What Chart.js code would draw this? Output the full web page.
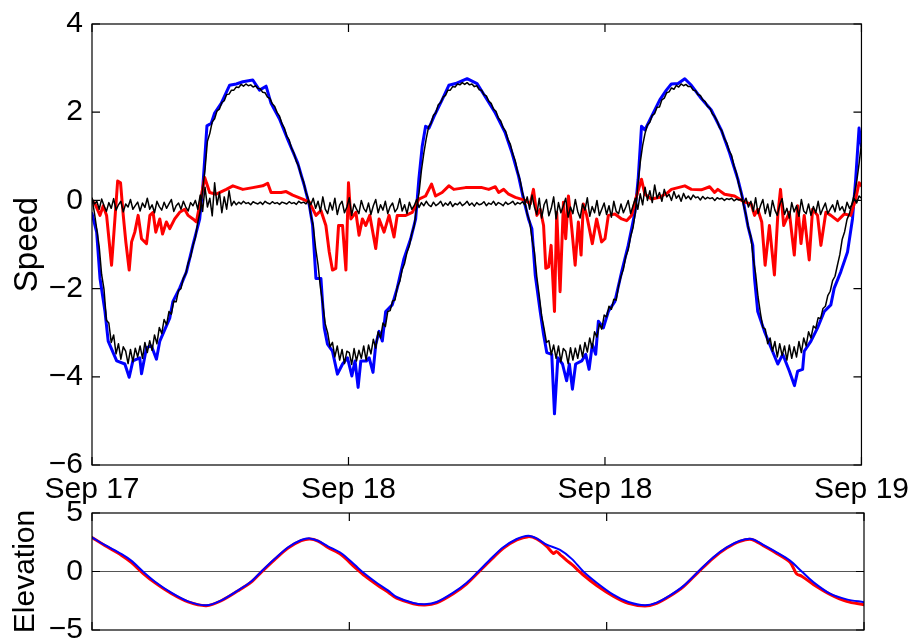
<!DOCTYPE html>
<html>
<head>
<meta charset="utf-8">
<script src="https://cdn.jsdelivr.net/npm/chart.js@4.4.1/dist/chart.umd.min.js"></script>
<style>
  html, body { margin: 0; padding: 0; background: #fff; overflow: hidden; }
  #wrap { position: relative; width: 919px; height: 644px; }
  #speed { position: absolute; left: 0; top: 0; }
  #elev { position: absolute; left: 0; top: 475px; }
</style>
</head>
<body>
<div id="wrap">
  <canvas id="speed" width="919" height="515"></canvas>
  <canvas id="elev" width="919" height="185"></canvas>
</div>
<script>
// time axis in hours from the start of Sep 17
const tickHours = [0, 16, 32, 48];
const tickLabels = ['Sep 17', 'Sep 18', 'Sep 18', 'Sep 19'];

// top panel: along-channel speed (blue)
const blueSpeedT = [0, 0.29, 0.50, 0.81, 1.01, 1.54, 2.05, 2.32, 2.55, 2.98, 3.09, 3.40, 3.71, 4.02, 4.23, 4.85, 5.05, 5.47, 5.89, 6.30,
  6.72, 6.92, 7.03, 7.17, 7.44, 7.65, 8.06, 8.58, 9.00, 9.41, 10.03, 10.45, 10.86, 11.17, 11.69, 12.21, 12.83, 13.24, 13.56, 13.76,
  13.97, 14.28, 14.49, 14.69, 15.00, 15.31, 15.63, 15.94, 16.21, 16.41, 16.60, 16.77, 17.12, 17.29, 17.53, 17.70, 17.91, 18.11, 18.32, 18.73,
  19.04, 19.46, 19.88, 20.19, 20.39, 20.60, 20.81, 21.02, 21.33, 21.84, 22.26, 22.68, 23.40, 24.02, 24.33, 25.16, 25.78, 26.20, 26.61, 26.92,
  27.23, 27.44, 27.65, 27.96, 28.17, 28.37, 28.68, 28.85, 29.06, 29.35, 29.61, 29.78, 29.97, 30.17, 30.55, 30.80, 31.01, 31.21, 31.42, 31.59,
  31.90, 32.21, 32.62, 33.04, 33.45, 33.87, 34.07, 34.28, 34.49, 34.90, 35.42, 35.83, 36.14, 36.56, 36.98, 37.39, 38.01, 38.63, 39.25, 39.77,
  40.29, 40.60, 40.91, 41.22, 41.33, 41.53, 41.95, 42.36, 42.78, 43.09, 43.50, 43.82, 44.02, 44.33, 44.43, 44.85, 45.26, 45.68, 46.09, 46.30,
  46.71, 47.13, 47.44, 47.64, 47.85, 48.00];
const blueSpeedV = [-0.30, -0.72, -1.77, -2.52, -3.19, -3.64, -3.71, -4.01, -3.64, -3.57, -3.93, -3.34, -3.30, -3.60, -3.19, -2.67, -2.29, -1.99, -1.62, -1.01,
  -0.42, 0.34, 0.93, 1.69, 1.75, 1.98, 2.20, 2.61, 2.64, 2.69, 2.73, 2.50, 2.59, 2.20, 1.85, 1.38, 0.85, 0.34, -0.11, -0.56,
  -1.77, -1.77, -2.89, -3.26, -3.42, -3.94, -3.71, -3.57, -3.98, -3.64, -4.24, -3.64, -3.64, -3.57, -3.90, -3.27, -2.97, -3.19, -2.52, -2.37,
  -1.99, -1.32, -0.87, -0.42, 0.48, 1.23, 1.68, 1.64, 1.90, 2.28, 2.61, 2.65, 2.76, 2.65, 2.47, 1.98, 1.53, 1.08, 0.55, 0.03,
  -0.42, -0.64, -1.69, -2.52, -3.04, -3.45, -3.49, -4.84, -3.57, -3.71, -4.09, -3.71, -4.28, -3.71, -3.64, -3.49, -3.83, -3.27, -3.49, -2.74,
  -2.89, -2.52, -2.29, -1.62, -1.02, -0.27, 0.48, 1.68, 1.60, 1.90, 2.28, 2.50, 2.64, 2.65, 2.76, 2.61, 2.31, 2.05, 1.60, 1.08,
  0.48, 0.03, -0.57, -1.02, -1.77, -2.52, -2.97, -3.34, -3.71, -3.49, -3.87, -4.20, -3.87, -3.83, -3.42, -3.19, -2.89, -2.52, -2.37, -1.99,
  -1.62, -1.17, -0.42, 0.48, 1.64, 1.23];

// top panel: cross-channel speed (red)
const redSpeedT = [0.00, 0.19, 0.50, 0.70, 0.91, 1.22, 1.43, 1.60, 1.78, 1.95, 2.11, 2.32, 2.47, 2.67, 2.88, 3.09, 3.40, 3.61, 3.81, 3.98,
  4.23, 4.40, 4.64, 4.85, 5.16, 5.47, 5.78, 5.99, 6.30, 6.51, 6.82, 7.03, 7.34, 7.75, 8.38, 8.79, 9.41, 10.03, 10.65, 10.96,
  11.17, 11.80, 12.11, 12.52, 13.14, 13.56, 13.97, 14.28, 14.59, 14.80, 15.00, 15.21, 15.38, 15.63, 15.84, 16.00, 16.15, 16.46, 16.66, 16.87,
  17.08, 17.33, 17.70, 17.91, 18.22, 18.53, 18.84, 19.04, 19.57, 19.98, 20.39, 20.81, 21.18, 21.43, 21.84, 22.26, 22.57, 23.30, 24.33, 24.75,
  25.16, 25.37, 25.68, 25.99, 26.41, 27.03, 27.34, 27.54, 27.75, 27.96, 28.17, 28.31, 28.48, 28.64, 28.85, 28.99, 29.20, 29.41, 29.55, 29.72,
  29.93, 30.14, 30.34, 30.51, 30.65, 30.86, 31.21, 31.48, 31.79, 32.00, 32.21, 32.62, 33.04, 33.35, 33.66, 33.97, 34.28, 34.49, 34.90, 35.42,
  35.93, 36.14, 36.98, 37.39, 38.01, 38.53, 38.84, 39.04, 39.46, 40.08, 40.71, 41.12, 41.33, 41.53, 41.78, 41.99, 42.26, 42.57, 42.78, 42.95,
  43.15, 43.50, 43.81, 44.02, 44.23, 44.43, 44.74, 44.95, 45.26, 45.47, 45.78, 46.09, 46.51, 46.92, 47.33, 47.64, 47.85, 48.00];
const redSpeedV = [0.00, -0.08, -0.34, -0.12, -0.34, -1.47, -0.42, 0.44, 0.40, -0.34, -0.94, -1.58, -0.94, -0.72, -0.34, -0.87, -0.98, -0.34, -0.27, -0.72,
  -0.42, -0.76, -0.49, -0.64, -0.42, -0.27, -0.20, -0.34, -0.42, -0.49, 0.10, 0.52, 0.18, 0.14, 0.25, 0.33, 0.25, 0.29, 0.33, 0.39,
  0.18, 0.18, 0.20, 0.12, 0.03, -0.04, -0.34, -0.23, -0.57, -1.17, -1.58, -1.54, -0.57, -0.57, -1.58, 0.40, -0.42, -0.27, -0.79, -0.42,
  -0.57, -0.34, -1.09, -0.42, -0.72, -0.34, -0.83, -0.34, -0.34, -0.27, 0.03, 0.10, 0.37, 0.10, 0.18, 0.33, 0.25, 0.29, 0.29, 0.25,
  0.31, 0.18, 0.25, 0.14, 0.07, 0.00, -0.08, 0.25, -0.34, -0.20, -0.57, -1.54, -1.51, -1.02, -2.52, -0.27, -2.07, -0.04, -0.87, 0.10,
  -0.64, -1.47, -0.49, -1.24, -0.08, -0.34, -0.98, -0.42, -0.94, -0.87, -0.34, -0.31, -0.42, -0.46, -0.34, 0.10, 0.48, 0.14, 0.03, 0.07,
  0.18, 0.25, 0.33, 0.25, 0.24, 0.31, 0.18, 0.25, 0.14, 0.10, -0.04, -0.08, -0.34, -0.20, -0.49, -1.47, -0.57, -1.69, -0.34, 0.25,
  -0.57, -0.27, -1.24, -0.12, -0.98, -0.34, -1.35, -0.20, -0.34, -1.02, -0.27, -0.34, -0.46, -0.31, -0.34, 0.03, 0.40, 0.33];

// top panel: black instrument records, one sample every 0.15 h
const blackStep = 0.15;
const blackAlong = [
  0.05, -0.28, -0.66, -1.05, -1.68, -2.02, -2.72, -2.78, -3.22, -3.05, -3.48, -3.25, -3.60, -3.32, -3.42, -3.70, -3.38, -3.66, -3.35, -3.55,
  -3.30, -3.58, -3.22, -3.45, -3.18, -3.40, -3.05, -3.25, -2.88, -3.02, -2.70, -2.82, -2.52, -2.58, -2.28, -2.30, -2.04, -2.00, -1.76, -1.66,
  -1.42, -1.28, -1.02, -0.84, -0.50, -0.24, 0.24, 0.70, 1.34, 1.52, 1.78, 1.85, 2.03, 2.07, 2.22, 2.26, 2.40, 2.41, 2.50, 2.50,
  2.57, 2.56, 2.63, 2.59, 2.64, 2.60, 2.62, 2.57, 2.60, 2.54, 2.53, 2.45, 2.44, 2.34, 2.31, 2.19, 2.13, 1.99, 1.91, 1.74,
  1.64, 1.46, 1.37, 1.18, 1.07, 0.88, 0.77, 0.56, 0.42, 0.18, 0.03, -0.33, -0.57, -1.08, -1.46, -1.98, -2.36, -2.80, -3.00, -3.32,
  -3.22, -3.55, -3.30, -3.62, -3.38, -3.70, -3.42, -3.45, -3.72, -3.36, -3.64, -3.40, -3.58, -3.30, -3.62, -3.28, -3.48, -3.15, -3.35, -2.98,
  -3.12, -2.78, -2.86, -2.52, -2.50, -2.28, -2.26, -1.96, -1.84, -1.57, -1.43, -1.18, -1.03, -0.75, -0.58, -0.15, 0.17, 0.68, 1.07, 1.40,
  1.67, 1.75, 1.93, 1.99, 2.17, 2.22, 2.34, 2.38, 2.50, 2.50, 2.58, 2.57, 2.64, 2.62, 2.67, 2.63, 2.67, 2.62, 2.64, 2.58,
  2.60, 2.51, 2.50, 2.40, 2.37, 2.25, 2.20, 2.07, 2.02, 1.87, 1.80, 1.65, 1.57, 1.38, 1.27, 1.05, 0.90, 0.65, 0.47, 0.18,
  -0.02, -0.31, -0.47, -0.88, -1.17, -1.74, -2.16, -2.62, -2.90, -3.22, -3.18, -3.50, -3.28, -3.58, -3.30, -3.66, -3.36, -3.42, -3.70, -3.34,
  -3.62, -3.35, -3.58, -3.28, -3.55, -3.22, -3.44, -3.12, -3.35, -2.98, -3.10, -2.80, -2.92, -2.60, -2.64, -2.40, -2.47, -2.24, -2.26, -1.94,
  -1.72, -1.56, -1.27, -1.12, -0.82, -0.62, -0.26, 0.34, 0.86, 1.25, 1.52, 1.71, 1.77, 1.93, 1.97, 2.11, 2.12, 2.28, 2.32, 2.44,
  2.46, 2.55, 2.52, 2.61, 2.57, 2.64, 2.60, 2.63, 2.58, 2.58, 2.50, 2.49, 2.40, 2.38, 2.28, 2.24, 2.13, 2.09, 1.96, 1.90,
  1.80, 1.65, 1.57, 1.40, 1.30, 1.12, 1.02, 0.78, 0.62, 0.36, 0.17, -0.12, -0.33, -0.63, -0.82, -1.31, -1.67, -2.19, -2.56, -2.88,
  -2.92, -3.25, -3.12, -3.42, -3.20, -3.55, -3.25, -3.52, -3.30, -3.62, -3.28, -3.58, -3.32, -3.55, -3.20, -3.45, -3.12, -3.30, -2.98, -3.12,
  -2.85, -2.90, -2.66, -2.68, -2.45, -2.40, -2.16, -2.06, -1.82, -1.72, -1.47, -1.23, -0.88, -0.71, -0.43, -0.30, -0.08, 0.13, 0.42, 0.83,
  1.30];
const blackCross = [
  0.05, -0.08, -0.02, -0.20, 0.03, -0.12, -0.25, -0.05, -0.18, 0.04, -0.22, -0.10, -0.02, -0.26, -0.08, -0.15, 0.02, -0.20, -0.12, -0.04,
  -0.24, -0.06, -0.16, 0.05, -0.20, -0.10, -0.28, -0.02, -0.14, -0.22, -0.04, -0.18, -0.08, 0.02, -0.25, -0.12, -0.06, -0.20, -0.02, -0.15,
  -0.24, -0.05, -0.12, 0.00, -0.20, 0.12, -0.25, 0.30, -0.15, 0.05, -0.35, 0.40, -0.10, 0.18, -0.28, 0.08, -0.20, 0.22, -0.12, -0.02,
  -0.10, -0.04, -0.08, -0.02, -0.07, -0.05, -0.10, -0.03, -0.06, -0.08, -0.04, -0.09, -0.02, -0.06, -0.08, -0.03, -0.07, -0.05, -0.09, -0.04,
  -0.06, -0.08, -0.03, -0.07, -0.05, -0.09, -0.02, -0.06, -0.04, -0.08, 0.00, -0.10, 0.05, -0.18, -0.02, -0.25, 0.08, -0.20, -0.30, -0.05,
  -0.22, 0.05, -0.32, -0.10, -0.02, -0.28, -0.15, 0.06, -0.34, -0.08, -0.20, -0.30, 0.00, -0.18, -0.26, -0.06, -0.32, -0.12, 0.02, -0.28,
  -0.10, -0.22, -0.02, -0.30, -0.14, -0.06, -0.26, -0.18, 0.04, -0.24, -0.10, -0.30, -0.04, -0.20, -0.12, 0.02, -0.16, -0.05, -0.12, -0.02,
  -0.10, -0.14, -0.04, -0.12, -0.08, -0.02, -0.13, -0.06, -0.11, -0.03, -0.14, -0.07, -0.10, -0.04, -0.12, -0.08, -0.02, -0.11, -0.06, -0.13,
  -0.05, -0.10, -0.08, -0.03, -0.12, -0.06, -0.09, -0.02, -0.11, -0.05, -0.08, -0.12, -0.04, -0.09, -0.06, -0.02, -0.10, -0.05, -0.08, -0.03,
  -0.10, 0.08, -0.20, 0.12, -0.15, -0.32, 0.05, -0.40, -0.10, 0.02, -0.35, -0.18, 0.08, -0.42, -0.05, -0.28, -0.12, 0.05, -0.38, -0.15,
  -0.30, 0.02, -0.25, -0.40, -0.08, -0.22, 0.06, -0.36, -0.14, -0.28, 0.00, -0.34, -0.20, -0.06, -0.32, -0.12, -0.38, -0.02, -0.25, -0.30,
  -0.08, -0.28, -0.15, 0.00, -0.30, -0.12, 0.05, -0.20, 0.15, -0.10, 0.30, 0.00, 0.22, -0.05, 0.35, 0.05, 0.18, -0.02, 0.25, 0.08,
  0.14, 0.00, 0.20, 0.05, 0.12, -0.02, 0.16, 0.04, 0.10, 0.02, 0.12, 0.06, 0.08, 0.01, 0.09, 0.03, 0.07, 0.04, 0.06, 0.00,
  0.06, 0.03, 0.05, 0.00, 0.04, 0.02, 0.05, -0.01, 0.03, 0.01, 0.02, -0.06, 0.05, -0.15, -0.02, -0.25, 0.06, -0.30, -0.12, 0.02,
  -0.30, -0.08, -0.36, 0.00, -0.22, -0.34, -0.10, 0.04, -0.32, -0.18, -0.40, -0.05, -0.26, -0.12, -0.36, 0.02, -0.24, -0.30, -0.08, -0.34,
  -0.14, -0.28, -0.02, -0.32, -0.18, -0.06, -0.30, -0.20, -0.10, -0.26, 0.00, -0.22, -0.14, -0.28, -0.04, -0.18, -0.10, 0.04, -0.06, 0.10,
  0.05];

// bottom panel: elevation
const elevBlueT = [0.00, 0.79, 1.82, 2.44, 3.17, 3.90, 4.93, 5.97, 7.11, 8.04, 9.08, 9.90, 10.53, 11.36, 12.19, 13.01, 13.54, 14.05, 14.67, 15.50,
  16.33, 16.96, 17.78, 18.40, 18.94, 19.98, 20.70, 21.43, 22.46, 23.30, 24.02, 24.75, 25.57, 26.41, 27.13, 27.65, 28.27, 29.10, 29.83, 30.55,
  31.38, 32.41, 33.35, 34.38, 35.11, 35.94, 36.76, 37.70, 38.63, 39.46, 40.29, 41.02, 41.74, 42.57, 43.40, 44.13, 44.85, 45.89, 46.92, 48.00];
const elevBlueV = [2.92, 2.27, 1.50, 0.93, 0.00, -0.85, -1.81, -2.55, -2.89, -2.46, -1.61, -0.85, 0.00, 1.08, 2.07, 2.69, 2.83, 2.63, 2.15, 1.56,
  0.57, -0.20, -1.05, -1.61, -2.18, -2.69, -2.80, -2.61, -1.81, -0.96, 0.00, 1.02, 2.07, 2.78, 3.06, 2.83, 2.29, 1.84, 1.08, 0.00,
  -0.96, -1.98, -2.61, -2.89, -2.66, -2.04, -1.25, 0.00, 1.22, 2.07, 2.63, 2.78, 2.27, 1.64, 0.93, 0.00, -0.91, -1.90, -2.38, -2.62];
const elevRedT = [0.00, 0.79, 1.82, 2.44, 3.17, 3.90, 4.93, 5.97, 7.11, 8.04, 9.08, 9.90, 10.53, 11.36, 12.19, 13.01, 13.54, 14.05, 14.67, 15.50,
  16.33, 16.96, 17.78, 18.40, 18.94, 19.98, 20.70, 21.43, 22.46, 23.30, 24.02, 24.75, 25.57, 26.41, 27.13, 27.65, 28.27, 28.68, 28.89, 29.10,
  29.51, 29.83, 30.55, 31.38, 32.41, 33.35, 34.38, 35.11, 35.94, 36.76, 37.70, 38.63, 39.46, 40.29, 41.02, 41.74, 42.57, 43.40, 43.81, 44.13,
  44.85, 45.89, 46.92, 48.00];
const elevRedV = [2.90, 2.22, 1.40, 0.78, -0.15, -0.95, -1.88, -2.60, -2.92, -2.50, -1.65, -0.90, -0.05, 1.02, 2.00, 2.63, 2.78, 2.60, 2.05, 1.42,
  0.38, -0.38, -1.20, -1.75, -2.28, -2.75, -2.86, -2.68, -1.90, -1.05, -0.08, 0.92, 1.98, 2.70, 2.98, 2.78, 2.15, 1.55, 1.70, 1.45,
  0.95, 0.60, -0.30, -1.19, -2.10, -2.72, -2.95, -2.72, -2.10, -1.32, -0.05, 1.15, 2.00, 2.58, 2.74, 2.20, 1.55, 0.80, -0.20, -0.40,
  -1.10, -1.95, -2.55, -2.85];
const zeroT = [0, 48];
const zeroV = [0, 0];

const FONT = "'Liberation Sans', Arial, Helvetica, sans-serif";
Chart.defaults.font.family = FONT;
Chart.defaults.color = '#000';

const pts = (ts, vs) => ts.map((t, i) => ({x: t, y: vs[i]}));
const blackT = blackAlong.map((_, i) => +(i * blackStep).toFixed(2));
const minus = v => String(v).replace('-', '\u2212');

// MATLAB-style box with inward tick marks on all four sides
const boxTicks = {
  id: 'boxTicks',
  afterDatasetsDraw(chart) {
    const {ctx, chartArea: a, scales: {x, y}} = chart;
    const len = 8;
    ctx.save();
    ctx.strokeStyle = '#000';
    ctx.lineWidth = 1.2;
    ctx.beginPath();
    x.ticks.forEach(t => {
      const px = x.getPixelForValue(t.value);
      ctx.moveTo(px, a.bottom); ctx.lineTo(px, a.bottom - len);
      ctx.moveTo(px, a.top); ctx.lineTo(px, a.top + len);
    });
    y.ticks.forEach(t => {
      const py = y.getPixelForValue(t.value);
      ctx.moveTo(a.left, py); ctx.lineTo(a.left + len, py);
      ctx.moveTo(a.right, py); ctx.lineTo(a.right - len, py);
    });
    ctx.stroke();
    ctx.strokeRect(a.left, a.top, a.right - a.left, a.bottom - a.top);
    ctx.restore();
  }
};

function line(data, color, width, extra) {
  return Object.assign({
    data, borderColor: color, borderWidth: width, pointRadius: 0,
    fill: false, tension: 0, borderJoinStyle: 'round', borderCapStyle: 'round'
  }, extra || {});
}

const xAxis = (showLabels, height) => ({
  type: 'linear', min: 0, max: 48,
  grid: { display: false, drawTicks: false },
  border: { display: false },
  afterBuildTicks: s => { s.ticks = tickHours.map(v => ({value: v})); },
  afterFit: s => { s.height = height; },
  ticks: {
    display: showLabels, autoSkip: false, maxRotation: 0, padding: 10,
    font: { size: 30, lineHeight: 1 },
    callback: (v, i) => tickLabels[i]
  }
});

const yAxis = (min, max, step, title, titleSize) => ({
  min, max,
  grid: { display: false, drawTicks: false },
  border: { display: false },
  afterFit: s => { s.width = 92; },
  ticks: { stepSize: step, padding: 9, font: { size: 30, lineHeight: 1 }, callback: v => minus(v) },
  title: { display: true, text: title, padding: { top: 8, bottom: 0 }, font: { size: titleSize, lineHeight: 1.2 } }
});

new Chart(document.getElementById('speed'), {
  type: 'line',
  data: {
    datasets: [
      line(pts(blackT, blackCross), '#000', 1.5),
      line(pts(blackT, blackAlong), '#000', 1.5),
      line(pts(redSpeedT, redSpeedV), '#ff0000', 3),
      line(pts(blueSpeedT, blueSpeedV), '#0000ff', 3)
    ]
  },
  options: {
    responsive: false, animation: false,
    layout: { padding: { left: 0, right: 55, top: 20, bottom: 0 } },
    plugins: { legend: { display: false }, tooltip: { enabled: false } },
    scales: { x: xAxis(true, 50), y: yAxis(-6, 4, 2, 'Speed', 33) }
  },
  plugins: [boxTicks]
});

new Chart(document.getElementById('elev'), {
  type: 'line',
  data: {
    datasets: [
      line(pts(elevBlueT, elevBlueV), '#0000ff', 2, { tension: 0.3 }),
      line(pts(elevRedT, elevRedV), '#ff0000', 3, { tension: 0.3 }),
      line(pts(zeroT, zeroV), '#555555', 1.2)
    ]
  },
  options: {
    responsive: false, animation: false,
    layout: { padding: { left: 0, right: 55, top: 38, bottom: 30 } },
    plugins: { legend: { display: false }, tooltip: { enabled: false } },
    scales: { x: xAxis(false, 0), y: yAxis(-5, 5, 5, 'Elevation', 30) }
  },
  plugins: [boxTicks]
});
</script>
</body>
</html>
